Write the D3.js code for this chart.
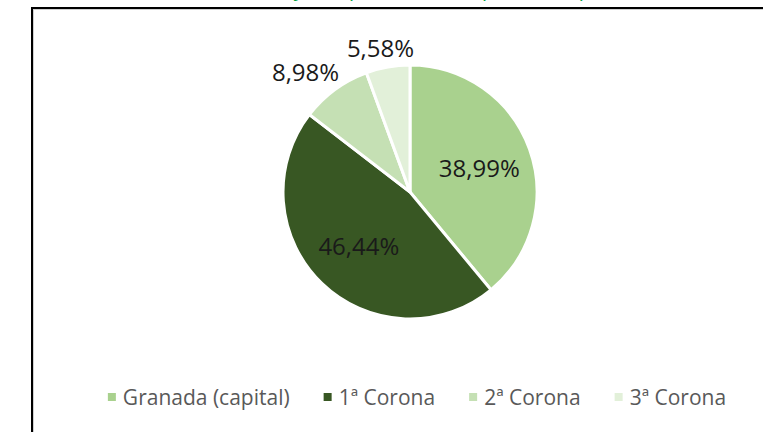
<!DOCTYPE html>
<html>
<head>
<meta charset="utf-8">
<script src="https://cdn.jsdelivr.net/npm/d3@7"></script>
<style>
  body { margin:0; background:#fff; }
  svg { display:block; }
</style>
</head>
<body>
<div class="canvas"></div>
<script>
const categories = ['Granada (capital)', '1ª Corona', '2ª Corona', '3ª Corona'];
const values = [38.99, 46.44, 8.98, 5.58];
const labels = ['38,99%', '46,44%', '8,98%', '5,58%'];
const colours = ['#A9D18E', '#385723', '#C5E0B4', '#E2F0D9'];
const outside = [false, false, true, true];

const dim = { width:763, height:432, radius:127 };
const cent = { x:410, y:192 };

const svg = d3.select('.canvas')
    .append('svg')
    .attr('width', dim.width)
    .attr('height', dim.height);

// chart title, mostly cut off above the frame
svg.append('text')
    .attr('x', 440)
    .attr('y', -4)
    .attr('text-anchor', 'middle')
    .attr('font-family', 'Open Sans, sans-serif')
    .attr('font-size', 20)
    .attr('fill', '#00A040')
    .text('Distribución y composición de la población por zonas (%)');

// chart frame
svg.append('rect')
    .attr('x', 33.5).attr('y', 9.5)
    .attr('width', 800).attr('height', 500)
    .attr('fill', 'none')
    .attr('stroke', '#d0d0d0')
    .attr('stroke-width', 1);
svg.append('rect')
    .attr('x', 32).attr('y', 8)
    .attr('width', 800).attr('height', 500)
    .attr('fill', 'none')
    .attr('stroke', '#000')
    .attr('stroke-width', 2);

const graph = svg.append('g')
    .attr('transform', `translate(${cent.x},${cent.y})`);

const data = categories.map((c, i) => ({ name:c, value:values[i], label:labels[i], out:outside[i] }));

const pie = d3.pie()
    .sort(null)
    .value(d => d.value);

const colour = d3.scaleOrdinal()
    .domain(categories)
    .range(colours);

const arcPath = d3.arc()
    .outerRadius(dim.radius)
    .innerRadius(0);

const inArc = d3.arc()
    .outerRadius(dim.radius * 0.58)
    .innerRadius(dim.radius * 0.58);

const angles = pie(data);

graph.selectAll('path')
    .data(angles)
    .enter()
    .append('path')
    .attr('d', arcPath)
    .attr('fill', d => colour(d.data.name))
    .attr('stroke', '#fff')
    .attr('stroke-width', 3)
    .attr('stroke-linejoin', 'miter');

// data labels
const lbl = graph.selectAll('text.lbl')
    .data(angles)
    .enter()
    .append('text')
    .attr('class', 'lbl')
    .attr('font-family', 'Open Sans, sans-serif')
    .attr('font-size', 24)
    .attr('fill', '#1a1a1a')
    .attr('text-anchor', 'middle')
    .attr('dominant-baseline', 'central')
    .text(d => d.data.label);

lbl.each(function(d) {
    const t = d3.select(this);
    if (!d.data.out) {
        const [x, y] = inArc.centroid(d);
        t.attr('x', x).attr('y', y);
    } else {
        const a = (d.startAngle + d.endAngle) / 2;
        const r = dim.radius + 8;
        const s = Math.sin(a), c = Math.cos(a);
        const m = Math.max(Math.abs(s), Math.abs(c));
        const w = this.getComputedTextLength();
        const h = 24;
        const x = r * s + (w / 2) * (s / m);
        const y = -r * c - (h / 2) * (c / m);
        t.attr('x', x).attr('y', y);
    }
});

// legend
const legendGroup = svg.append('g');
const items = legendGroup.selectAll('g')
    .data(categories)
    .enter()
    .append('g');

items.append('rect')
    .attr('width', 8).attr('height', 8)
    .attr('y', -4)
    .attr('fill', d => colour(d));

items.append('text')
    .attr('x', 15)
    .attr('dominant-baseline', 'central')
    .attr('font-family', 'Open Sans, sans-serif')
    .attr('font-size', 21)
    .attr('fill', '#595959')
    .text(d => d);

const gap = 34;
let xo = 0;
items.each(function() {
    const g = d3.select(this);
    g.attr('transform', `translate(${xo},0)`);
    xo += 15 + g.select('text').node().getComputedTextLength() + gap;
});
const legendW = xo - gap;
legendGroup.attr('transform', `translate(${417 - legendW / 2},397)`);
</script>
</body>
</html>
